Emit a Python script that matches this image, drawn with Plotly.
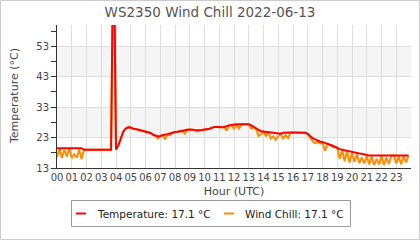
import plotly.graph_objects as go

# 10-minute readings, 00:00 .. 23:50 (hours as decimal)
temperature = [
    19.5, 19.5, 19.5, 19.5, 19.5, 19.5,   # 00
    19.5, 19.5, 19.5, 19.5, 19.5, 19.0,   # 01
    19.0, 19.0, 19.0, 19.0, 19.0, 19.0,   # 02
    19.0, 19.0, 19.0, 19.0, 19.0, 95.0,   # 03
    19.1, 20.5, 23.0, 25.0, 26.0, 26.4,   # 04
    26.3, 25.9, 25.8, 25.6, 25.4, 25.3,   # 05
    25.1, 24.9, 24.5, 24.0, 23.6, 23.4,   # 06
    23.5, 23.8, 24.0, 24.1, 24.4, 24.6,   # 07
    24.8, 24.9, 25.0, 25.2, 25.4, 25.6,   # 08
    25.7, 25.6, 25.5, 25.4, 25.4, 25.5,   # 09
    25.6, 25.8, 25.9, 26.2, 26.5, 26.5,   # 10
    26.4, 26.4, 26.5, 26.8, 27.0, 27.1,   # 11
    27.3, 27.4, 27.4, 27.4, 27.4, 27.4,   # 12
    27.4, 27.0, 26.4, 25.8, 25.5, 25.1,   # 13
    25.0, 25.0, 24.9, 24.7, 24.6, 24.5,   # 14
    24.3, 24.3, 24.6, 24.7, 24.7, 24.7,   # 15
    24.7, 24.7, 24.7, 24.7, 24.7, 24.6,   # 16
    24.2, 23.4, 22.8, 22.4, 22.0, 21.7,   # 17
    21.5, 21.3, 21.0, 20.7, 20.4, 20.1,   # 18
    19.6, 19.2, 19.0, 18.8, 18.6, 18.4,   # 19
    18.2, 18.1, 17.9, 17.8, 17.7, 17.6,   # 20
    17.3, 17.1, 17.1, 17.1, 17.1, 17.1,   # 21
    17.1, 17.1, 17.1, 17.1, 17.1, 17.1,   # 22
    17.1, 17.1, 17.1, 17.1, 17.1, 17.1,   # 23
]
wind_chill = [
    16.5, 19.5, 16.3, 19.0, 16.8, 19.5,   # 00
    16.2, 17.5, 16.4, 19.0, 16.0, 19.0,   # 01
    19.0, 19.0, 19.0, 19.0, 19.0, 19.0,   # 02
    19.0, 19.0, 19.0, 19.0, 19.0, 95.0,   # 03
    19.1, 20.5, 23.0, 25.0, 26.0, 26.4,   # 04
    26.3, 25.9, 25.8, 25.6, 25.4, 25.3,   # 05
    25.1, 24.9, 24.5, 24.0, 23.6, 22.7,   # 06
    23.5, 23.8, 22.4, 24.1, 23.8, 24.6,   # 07
    24.8, 24.9, 25.0, 25.2, 24.3, 25.6,   # 08
    25.7, 25.6, 25.5, 25.0, 25.4, 25.5,   # 09
    25.6, 25.8, 25.9, 26.2, 26.5, 26.5,   # 10
    26.4, 26.4, 26.5, 25.3, 27.0, 27.1,   # 11
    25.8, 27.4, 26.0, 27.4, 27.4, 27.4,   # 12
    27.4, 26.0, 26.4, 25.8, 23.5, 24.2,   # 13
    25.0, 23.4, 24.9, 22.6, 23.4, 22.2,   # 14
    23.5, 24.3, 22.6, 23.8, 22.8, 24.7,   # 15
    24.7, 24.7, 24.7, 24.7, 24.7, 24.6,   # 16
    24.2, 22.8, 21.8, 21.2, 21.6, 21.0,   # 17
    21.5, 18.6, 21.0, 20.5, 20.0, 19.8,   # 18
    19.6, 16.0, 19.0, 15.2, 18.6, 14.8,   # 19
    18.0, 15.0, 17.5, 14.6, 16.5, 14.5,   # 20
    17.0, 14.2, 16.8, 14.0, 16.0, 14.2,   # 21
    17.0, 14.0, 16.5, 14.3, 17.1, 17.1,   # 22
    14.5, 16.8, 14.2, 17.0, 14.8, 17.1,   # 23
]
hours = [i / 6 for i in range(len(temperature))]
hour_ticks = list(range(0, 25))
hour_labels = [f"{h:02d}" for h in range(24)] + [""]
y_ticks = [13, 23, 33, 43, 53]
bands = [(23, 33), (43, 53)]
legend_items = [("Temperature: 17.1 °C", "#ff0000"), ("Wind Chill: 17.1 °C", "#ff8c00")]

FONT = "DejaVu Sans"
W, H = 420, 240
L, R, T, B = 57, 9, 25, 72
pw, ph = W - L - R, H - T - B


def px(x):
    return (x - L) / pw


def py(y):
    return (H - B - y) / ph


fig = go.Figure()
fig.add_trace(go.Scatter(x=hours, y=wind_chill, mode="lines",
                         name=legend_items[1][0], showlegend=False,
                         line=dict(color="#ff8c00", width=2)))
fig.add_trace(go.Scatter(x=hours, y=temperature, mode="lines",
                         name=legend_items[0][0], showlegend=False,
                         line=dict(color="#ff0000", width=2)))

shapes = []
for y0, y1 in bands:
    shapes.append(dict(type="rect", xref="paper", yref="y", x0=0, x1=1, y0=y0, y1=y1,
                       fillcolor="#f5f5f5", line=dict(width=0), layer="below"))
# outer frame
shapes.append(dict(type="rect", xref="paper", yref="paper",
                   x0=px(0.5), x1=px(W - 0.5), y0=py(H - 0.5), y1=py(0.5),
                   line=dict(color="#cccccc", width=1), fillcolor="rgba(0,0,0,0)"))
# legend box
shapes.append(dict(type="rect", xref="paper", yref="paper",
                   x0=px(71.5), x1=px(350.5), y0=py(226.5), y1=py(200.5),
                   line=dict(color="#999999", width=1), fillcolor="white"))
annotations = []
legend_x = [76, 224]
for (label, color), lx in zip(legend_items, legend_x):
    shapes.append(dict(type="line", xref="paper", yref="paper",
                       x0=px(lx), x1=px(lx + 10), y0=py(213.5), y1=py(213.5),
                       line=dict(color=color, width=2)))
    annotations.append(dict(text=label, xref="paper", yref="paper",
                            x=px(lx + 19), y=py(213.5), xanchor="left", yanchor="middle",
                            showarrow=False, font=dict(family=FONT, size=10.5, color="#222")))
annotations.append(dict(text="Temperature (°C)", xref="paper", yref="paper",
                        x=px(14), y=py(96), xanchor="center", yanchor="middle",
                        textangle=-90, showarrow=False,
                        font=dict(family=FONT, size=11, color="#444")))

fig.update_layout(
    width=W, height=H,
    margin=dict(l=L, r=R, t=T, b=B, autoexpand=False),
    paper_bgcolor="white", plot_bgcolor="white",
    font=dict(family=FONT, size=10, color="#444"),
    title=dict(text="WS2350 Wind Chill 2022-06-13", x=0.5, xref="container",
               xanchor="center", y=1 - 12 / H, yref="container", yanchor="middle",
               font=dict(family=FONT, size=13.5, color="#555")),
    shapes=shapes,
    annotations=annotations,
    showlegend=False,
    xaxis=dict(range=[0, 24], tickvals=hour_ticks, ticktext=hour_labels,
               showgrid=True, gridcolor="#dddddd", gridwidth=1,
               showline=True, linecolor="#333", linewidth=1, ticks="",
               zeroline=False, automargin=False, tickfont=dict(size=10, color="#444"),
               title=dict(text="Hour (UTC)", font=dict(size=11, color="#444"), standoff=5)),
    yaxis=dict(range=[13, 60], tickvals=y_ticks,
               showgrid=True, gridcolor="#dddddd", gridwidth=1,
               showline=True, linecolor="#333", linewidth=1,
               ticks="outside", ticklen=5, tickcolor="#333",
               minor=dict(dtick=5, tick0=13, ticks="outside", ticklen=5,
                          tickcolor="#333", showgrid=False),
               zeroline=False, automargin=False, tickfont=dict(size=10, color="#444")),
)

fig.write_html("out.html")
